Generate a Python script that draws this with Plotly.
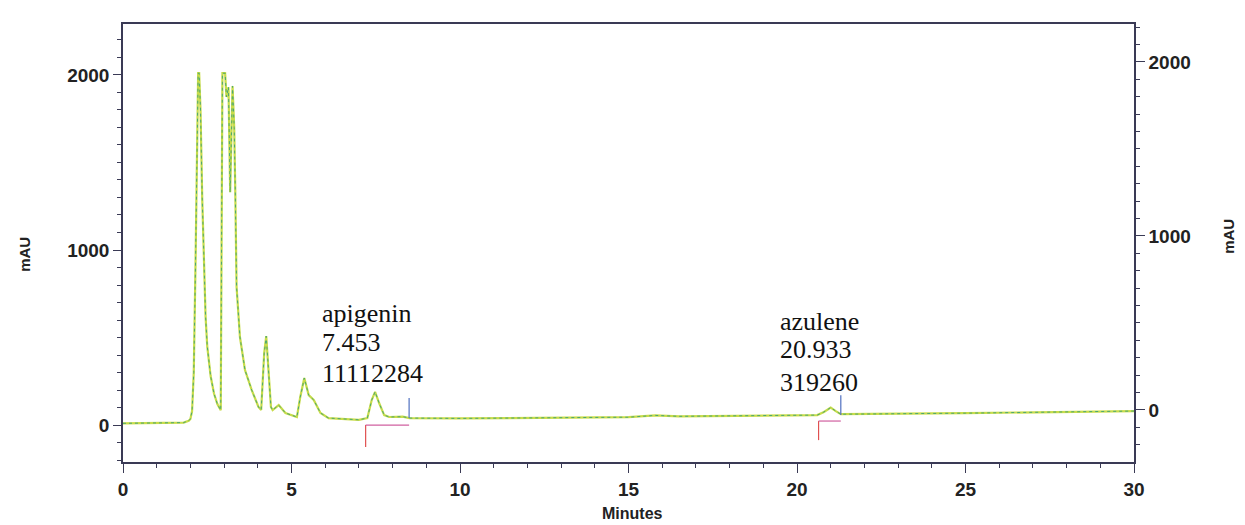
import plotly.graph_objects as go

# ---- chromatogram signal ----
time_min = [0.0, 1.0, 1.8, 1.95, 2.0, 2.05, 2.1, 2.15, 2.2, 2.23, 2.26,
            2.3, 2.35, 2.4, 2.45, 2.5, 2.6, 2.7, 2.8, 2.9,
            2.93, 2.95, 3.03, 3.07, 3.13, 3.18, 3.25, 3.3, 3.33, 3.37, 3.47, 3.62, 3.82, 4.02, 4.1,
            4.15, 4.19, 4.25, 4.32, 4.39, 4.44, 4.62, 4.82, 5.16,
            5.26, 5.38, 5.51, 5.66, 5.86, 6.1, 7.0,
            7.25, 7.38, 7.48, 7.6, 7.75, 7.9, 8.3, 8.5,
            10.0, 15.0, 15.8, 16.5, 20.0, 20.6, 20.8, 21.0, 21.15, 21.3, 25.0, 30.0]
signal_mau = [10, 10, 14, 25, 35, 80, 300, 900, 1700, 2010, 2010,
              1800, 1300, 900, 620, 450, 280, 180, 120, 85,
              900, 2010, 2010, 1874, 1930, 1330, 1937, 1700, 1360, 790, 503, 314, 200, 103, 86,
              250, 411, 508, 314, 103, 86, 114, 69, 46,
              160, 269, 171, 143, 69, 40, 30,
              40, 143, 190, 126, 57, 46, 48, 40,
              38, 45, 55, 50, 55, 57, 75, 100, 80, 62, 68, 80]

# ---- peak table ----
peak_names = ["apigenin", "azulene"]
peak_rt = ["7.453", "20.933"]
peak_area = ["11112284", "319260"]
peak_start = [7.2, 20.64]
peak_end = [8.49, 21.3]
start_mark_top = [0, 23]
start_mark_bottom = [-126, -86]
end_mark_bottom = [40, 57]
end_mark_top = [154, 171]

# ---- axes ----
x_range = [0, 30]
y_range = [-211, 2291]
y2_range = [-299, 2218]
x_ticks = [0, 5, 10, 15, 20, 25, 30]
y_ticks = [0, 1000, 2000]

fig = go.Figure()

fig.add_trace(go.Scatter(x=time_min, y=signal_mau, mode="lines",
                         line=dict(color="#c8dc4a", width=2.2),
                         hoverinfo="skip", showlegend=False))
fig.add_trace(go.Scatter(x=time_min, y=signal_mau, mode="lines",
                         line=dict(color="#4aa870", width=1, dash="dot"),
                         showlegend=False))

for i in range(len(peak_names)):
    # start-of-peak marker (red) with horizontal baseline (magenta)
    fig.add_trace(go.Scatter(x=[peak_start[i], peak_start[i]],
                             y=[start_mark_bottom[i], start_mark_top[i]],
                             mode="lines", line=dict(color="#e05050", width=1.2),
                             showlegend=False, hoverinfo="skip"))
    fig.add_trace(go.Scatter(x=[peak_start[i], peak_end[i]],
                             y=[start_mark_top[i], start_mark_top[i]],
                             mode="lines", line=dict(color="#d060a0", width=1.2),
                             showlegend=False, hoverinfo="skip"))
    # end-of-peak marker (blue)
    fig.add_trace(go.Scatter(x=[peak_end[i], peak_end[i]],
                             y=[end_mark_bottom[i], end_mark_top[i]],
                             mode="lines", line=dict(color="#5070c0", width=1.2),
                             showlegend=False, hoverinfo="skip"))

# label placement: left edge (minutes) and centre of each of the three text lines (mAU)
label_x = [5.85, 19.44]
label_line_y = [[640, 474, 297], [594, 429, 246]]
for i in range(len(peak_names)):
    lines = [peak_names[i], peak_rt[i], peak_area[i]]
    for j, txt in enumerate(lines):
        fig.add_annotation(x=label_x[i], y=label_line_y[i][j], xref="x", yref="y",
                           text=txt, showarrow=False, xanchor="left", yanchor="middle",
                           font=dict(family="Liberation Serif", size=26, color="#111"))

axis_color = "#3a3a55"
tick_font = dict(family="Liberation Sans", size=19, color="#222", weight="bold")

fig.update_layout(
    width=1237, height=517,
    margin=dict(l=115, r=111, t=16, b=63),
    paper_bgcolor="white", plot_bgcolor="white",
    xaxis=dict(range=x_range, tickvals=x_ticks, showgrid=False, zeroline=False,
               showline=True, linecolor=axis_color, linewidth=1.5, mirror=True,
               ticks="outside", ticklen=9, tickcolor=axis_color, tickfont=tick_font,
               minor=dict(dtick=1, ticks="outside", ticklen=4, tickcolor=axis_color)),
    yaxis=dict(range=y_range, tickvals=y_ticks, showgrid=False, zeroline=False,
               showline=True, linecolor=axis_color, linewidth=1.5,
               ticks="outside", ticklen=8, tickcolor=axis_color, tickfont=tick_font,
               minor=dict(dtick=100, ticks="outside", ticklen=4, tickcolor=axis_color)),
    yaxis2=dict(range=y2_range, tickvals=y_ticks, overlaying="y", side="right",
                showgrid=False, zeroline=False, showline=True, linecolor=axis_color,
                linewidth=1.5, ticks="outside", ticklen=9, tickcolor=axis_color,
                tickfont=tick_font,
                minor=dict(dtick=100, ticks="outside", ticklen=4, tickcolor=axis_color)),
)

# dummy trace to show the right axis
fig.add_trace(go.Scatter(x=[None], y=[None], yaxis="y2", showlegend=False))

title_font = dict(family="Liberation Sans", size=15, color="#222", weight="bold")
fig.add_annotation(text="mAU", xref="paper", yref="paper", x=0, y=0.473,
                   xanchor="center", yanchor="middle",
                   xshift=-98, showarrow=False, textangle=-90, font=title_font)
fig.add_annotation(text="mAU", xref="paper", yref="paper", x=1, y=0.514,
                   xanchor="center", yanchor="middle",
                   xshift=95, showarrow=False, textangle=-90, font=title_font)
fig.add_annotation(text="Minutes", xref="paper", yref="paper", x=0.504, y=0,
                   xanchor="center", yanchor="middle",
                   yshift=-51, showarrow=False,
                   font=dict(family="Liberation Sans", size=16, color="#222", weight="bold"))

fig.write_html("out.html")
